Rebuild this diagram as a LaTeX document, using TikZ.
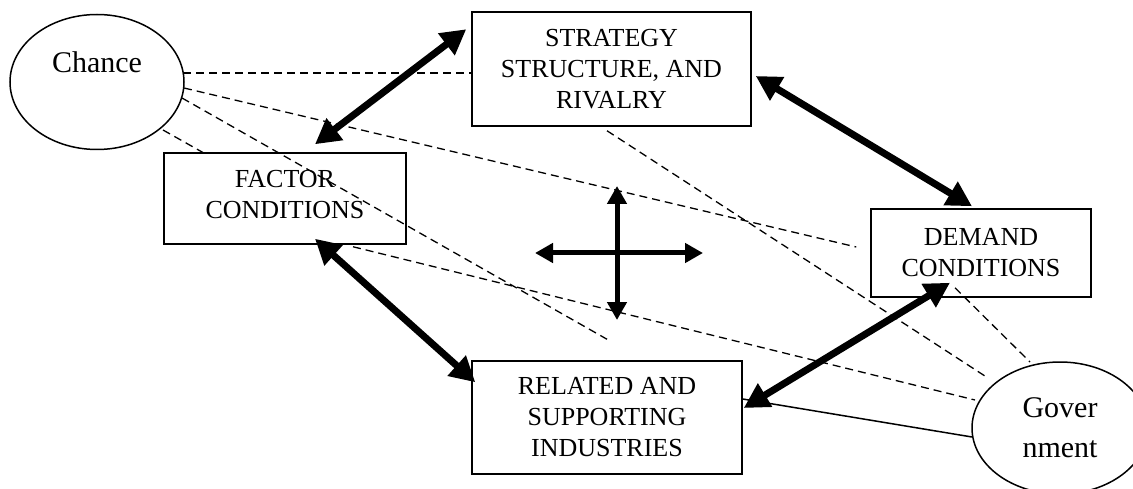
\documentclass[tikz,border=0pt]{standalone}
\usepackage{fontspec}
\setmainfont{Liberation Serif}
\usetikzlibrary{shapes.geometric,arrows.meta,calc}
\tikzset{
  box/.style={draw, line width=1.5pt, rectangle, align=center, inner sep=0pt,
    font=\fontsize{26}{31}\selectfont},
  oval/.style={draw, line width=1.5pt, ellipse, inner sep=0pt, align=center,
    font=\fontsize{30}{40}\selectfont},
  link/.style={line width=1.3pt, dash pattern=on 8pt off 5pt},
  plain/.style={line width=1.5pt},
  bigarrow/.style={line width=7pt, {Triangle[length=25pt,width=26pt]}-{Triangle[length=25pt,width=26pt]}},
  crossarrow/.style={line width=5pt, -{Triangle[length=18pt,width=19pt]}}
}
\begin{document}
\begin{tikzpicture}[x=1pt,y=-1pt]
\useasboundingbox (0,0) rectangle (1133,489);
% nodes
\node[oval, minimum width=174pt, minimum height=135pt,
  label={[font=\fontsize{30}{40}\selectfont, yshift=20pt]center:Chance}] (chance) at (97,82) {};
\node[oval, minimum width=176pt, minimum height=132pt] (gov) at (1060,428) {Gover\\nment};
\node[box, minimum width=279pt, minimum height=114pt] (strat) at (611.5,69) {STRATEGY\\STRUCTURE, AND\\RIVALRY};
\node[box, minimum width=242pt, minimum height=91pt] (factor) at (285,198.5) {};
\node[font=\fontsize{26}{31}\selectfont, align=center, inner sep=0pt] at ($(factor.center)+(0,-4)$) {FACTOR\\CONDITIONS};
\node[box, minimum width=220pt, minimum height=88pt] (demand) at (981,253) {DEMAND\\CONDITIONS};
\node[box, minimum width=270pt, minimum height=113pt] (related) at (607,417.5) {RELATED AND\\SUPPORTING\\INDUSTRIES};
\coordinate (cross) at (617,253);
% dashed links
\draw[link] ($(chance.center)+(86,-9)$) -- ($(strat.west)+(0,4)$);
\draw[link] ($(chance.center)+(87,6)$) -- ($(demand.west)+(-14,-6)$);
\draw[link] ($(chance.center)+(85,16)$) -- ($(related.north)+(0,-21)$);
\draw[link] ($(chance.center)+(66,48)$) -- ($(factor.north west)+(41,1)$);
\draw[link] ($(factor.south)+(68,2)$) -- ($(gov.center)+(-85,-28)$);
\draw[link] ($(strat.south)+(-4.5,4)$) -- ($(gov.center)+(-72,-50)$);
\draw[link] ($(demand.south)+(-26,-10)$) -- ($(gov.center)+(-30,-66)$);
\draw[plain] ($(related.east)+(0,-18.5)$) -- ($(gov.center)+(-88,9)$);
% thick arrows
\draw[bigarrow] ($(strat.north west)+(-5,18)$) -- ($(factor.north)+(30,-8)$);
\draw[bigarrow] ($(strat.east)+(4,7)$) -- ($(demand.north)+(-9,-2)$);
\draw[bigarrow] ($(factor.south)+(30,-6)$) -- ($(related.north west)+(4,22)$);
\draw[bigarrow] ($(related.east)+(1,-9.5)$) -- ($(demand.south)+(-31,-15)$);
% cross
\draw[crossarrow] (cross) -- ($(cross)+(-82,0)$);
\draw[crossarrow] (cross) -- ($(cross)+(86,0)$);
\draw[crossarrow] (cross) -- ($(cross)+(0,-67)$);
\draw[crossarrow] (cross) -- ($(cross)+(0,67)$);
\end{tikzpicture}
\end{document}
